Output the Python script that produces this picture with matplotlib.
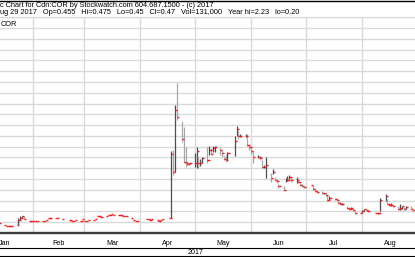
import numpy as np
import pandas as pd
import matplotlib
matplotlib.use("Agg")
import matplotlib.pyplot as plt
import matplotlib.transforms as mtransforms
from matplotlib.lines import Line2D

plt.rcParams["font.family"] = ["Liberation Sans", "DejaVu Sans"]

# TSX holidays in the window
holidays = ["2017-02-20", "2017-04-14", "2017-05-22", "2017-07-03", "2017-08-07"]
days = pd.bdate_range("2017-01-13", "2017-08-29")
days = days[~days.isin(pd.to_datetime(holidays))]

N = None
closes = [
    0.29,
    0.26, 0.25, 0.245, 0.25, 0.25,
    0.26, 0.33, 0.36, 0.38, 0.35,
    0.32, 0.31, 0.31, 0.32, 0.32,
    0.32, 0.32, 0.33, 0.36, 0.36,
    0.36, 0.36, N, N, 0.34,
    0.33, 0.32, 0.32, 0.33,
    0.32, 0.34, 0.32, 0.31, 0.33,
    0.33, 0.35, 0.38, 0.38, 0.37,
    0.39, 0.40, 0.40, 0.41, 0.40,
    0.40, 0.40, 0.39, 0.38, 0.38,
    0.36, 0.33, 0.31, 0.32, N,
    N, 0.34, 0.34, 0.33, 0.34,
    0.33, 0.31, 0.33, 0.34,
    0.355, 1.245, 1.00, 1.86, 1.76,
    1.46, 1.14, 1.13, 1.11, 1.12,
    1.13, 1.29, 1.13, 1.13, 1.19,
    1.16, 1.30, 1.25, 1.33, 1.34,
    1.30, 1.26, 1.18, 1.17, 1.26,
    1.43, 1.59, 1.50, 1.50,
    1.50, 1.37, 1.34, 1.29, 1.21,
    1.21, 1.19, 1.07, 1.07, 1.10,
    0.91, 1.00, 0.89, 0.87, 0.80,
    0.75, 0.88, 0.89, 0.93, 0.89,
    0.89, 0.86, 0.82, 0.81, 0.79,
    0.82, 0.76, 0.73, 0.72,
    0.70, 0.70, 0.68, 0.61, 0.63,
    0.62, 0.61, 0.57, 0.56, 0.56,
    0.50, 0.48, 0.50, 0.47, 0.43,
    0.43, 0.46, 0.48, 0.47, 0.45,
    0.43, 0.43, 0.43, 0.61,
    0.67, 0.56, 0.54, 0.54, 0.52,
    0.48, 0.50, 0.52, 0.48, 0.51,
    0.48, 0.47,
]
highs = [
    N,
    N, N, N, N, N,
    N, 0.36, 0.38, 0.39, 0.38,
    N, N, N, N, N,
    N, N, N, N, N,
    N, N, N, N, N,
    N, N, N, N,
    N, N, N, N, N,
    N, N, N, N, N,
    N, N, N, N, N,
    N, N, N, N, N,
    N, N, N, N, N,
    N, N, N, N, N,
    N, N, N, N,
    N, 1.29, 1.30, 1.93, 2.23,
    1.71, 1.63, 1.34, 1.15, N,
    1.26, 1.34, 1.21, 1.18, 1.21,
    1.35, 1.36, 1.33, 1.36, 1.36,
    1.34, 1.30, 1.22, 1.24, 1.28,
    1.50, 1.64, 1.57, 1.53,
    1.52, 1.52, 1.37, 1.33, 1.29,
    1.23, 1.22, 1.16, 1.09, 1.21,
    0.99, 1.04, 0.93, 0.89, 0.83,
    0.80, 0.92, 0.94, 0.95, 0.93,
    0.93, 0.88, 0.85, 0.83, 0.81,
    N, 0.82, 0.77, 0.75,
    0.73, 0.71, 0.71, 0.68, 0.66,
    0.64, 0.63, 0.60, 0.58, 0.57,
    0.53, 0.50, 0.51, 0.50, 0.46,
    N, 0.47, 0.49, N, N,
    N, N, N, 0.63,
    0.69, 0.62, 0.56, 0.57, 0.54,
    0.52, 0.55, 0.53, 0.51, 0.52,
    0.52, 0.475,
]
lows = [
    N,
    N, N, N, N, N,
    N, 0.26, 0.33, 0.36, 0.34,
    N, N, N, N, N,
    N, N, N, N, N,
    N, N, N, N, N,
    N, N, N, N,
    N, N, N, N, N,
    N, N, N, N, N,
    N, N, N, N, N,
    N, N, N, N, N,
    N, N, N, N, N,
    N, N, N, N, N,
    N, N, N, N,
    N, 0.355, 0.96, 1.00, 1.72,
    1.42, 1.12, 1.07, 1.09, N,
    1.07, 1.06, 1.05, 1.08, 1.12,
    1.12, 1.23, 1.23, 1.27, 1.28,
    1.24, 1.20, 1.16, 1.14, 1.17,
    1.22, 1.50, 1.46, 1.48,
    1.48, 1.36, 1.30, 1.25, 1.12,
    1.19, 1.17, 1.05, 1.05, 0.91,
    0.86, 0.97, 0.87, 0.85, 0.78,
    0.74, 0.86, 0.87, 0.90, 0.86,
    0.85, 0.85, 0.81, 0.79, 0.77,
    N, 0.75, 0.72, 0.71,
    0.69, 0.69, 0.66, 0.60, 0.61,
    0.61, 0.59, 0.56, 0.55, 0.54,
    0.49, 0.47, 0.48, 0.45, 0.42,
    N, 0.43, 0.46, N, N,
    N, N, 0.42, 0.45,
    0.60, 0.55, 0.53, 0.53, 0.51,
    0.47, 0.47, 0.49, 0.47, 0.48,
    0.47, 0.45,
]
month_names = ["Jan", "Feb", "Mar", "Apr", "May", "Jun", "Jul", "Aug"]
header1 = "c Chart for Cdn:COR by Stockwatch.com 604.687.1500 - (c) 2017"
header2 = ("ug 29 2017   Op=0.455   Hi=0.475   Lo=0.45   Cl=0.47   "
           "Vol=131,000   Year hi=2.23   lo=0.20")
legend_label = "COR"

c = np.array(closes, dtype=float)
h = np.array(highs, dtype=float)
l = np.array(lows, dtype=float)
h = np.where(np.isnan(h), c, h)
l = np.where(np.isnan(l), c, l)
prev = pd.Series(c).ffill().shift().bfill().values
bar_colors = np.where(c >= prev, "#4d4d4d", "#a8a8a8")

W, H = 415, 257
fig = plt.figure(figsize=(W / 100, H / 100), dpi=100)


def fy(px):
    return 1 - px / H


ax = fig.add_axes([0, fy(233), 1, fy(17.2) - fy(233)])
x_start = pd.Timestamp("2017-01-13 20:24")
x_end = pd.Timestamp("2017-08-30 04:00")
ax.set_xlim(x_start, x_end)
ax.set_ylim(0.15, 3.15)

ok = ~np.isnan(c)
ax.vlines(days[ok], l[ok], h[ok], colors=bar_colors[ok], lw=0.9, zorder=3)
ax.hlines(c[ok], days[ok], days[ok] + pd.Timedelta(hours=30),
          colors="#ee1c1c", lw=1.0, zorder=4)

month_starts = pd.date_range("2017-02-01", "2017-08-01", freq="MS")
ax.set_xticks(month_starts)
ax.set_yticks(np.arange(0.30, 3.151, 0.15))
ax.grid(True, color="#d9d9d9", lw=1.0, zorder=0)
ax.tick_params(length=0, labelbottom=False, labelleft=False)
for s in ["left", "right"]:
    ax.spines[s].set_visible(False)
ax.spines["top"].set_color("#d9d9d9")
ax.spines["bottom"].set_color("#3c3c3c")
ax.spines["bottom"].set_linewidth(1.7)

trans = mtransforms.blended_transform_factory(ax.transData, fig.transFigure)
for i, name in enumerate(month_names):
    start = pd.Timestamp(2017, i + 1, 1)
    mid = start + pd.Timedelta(days=start.days_in_month / 2)
    ax.text(mid, fy(244.6), name, transform=trans, ha="center",
            va="baseline", fontsize=5.1, clip_on=False)
year_mid = pd.Timestamp("2017-01-01") + (x_end - pd.Timestamp("2017-01-01")) / 2
ax.text(year_mid, fy(254.3), "2017", transform=trans, ha="center",
        va="baseline", fontsize=5.1, clip_on=False)

for ypx, lw in [(0.5, 1.0), (247.8, 0.8), (256.3, 0.8)]:
    fig.add_artist(Line2D([0, 1], [fy(ypx), fy(ypx)], color="black", lw=lw))

fig.text(0, fy(6.8), header1, fontsize=5.3, va="baseline")
fig.text(0, fy(14.5), header2, fontsize=5.3, va="baseline")
fig.text(0.5 / W, fy(26.2), legend_label, fontsize=5.3, va="baseline")

fig.savefig("out.png", dpi=100)
